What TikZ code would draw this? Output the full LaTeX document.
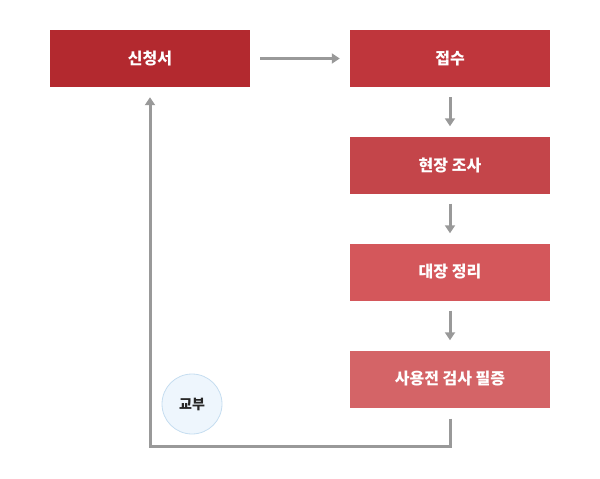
\documentclass[tikz,border=0pt]{standalone}
\usepackage{fontspec}
\setmainfont{Noto Sans CJK KR}
\usetikzlibrary{arrows.meta}
\definecolor{c1}{HTML}{B3292F}
\definecolor{c2}{HTML}{BF363C}
\definecolor{c3}{HTML}{C4454A}
\definecolor{c4}{HTML}{D4575B}
\definecolor{c5}{HTML}{D46467}
\definecolor{ln}{HTML}{999999}
\definecolor{cfill}{HTML}{EEF6FD}
\definecolor{cline}{HTML}{C5DDF0}
\begin{document}
\begin{tikzpicture}[x=1pt,y=-1pt,
  stepbox/.style={minimum width=200pt,minimum height=57pt,inner sep=0pt,text=white,font=\fontsize{16}{19}\selectfont\bfseries},
  conn/.style={draw=ln,line width=3pt,-{Triangle[length=8pt,width=10pt]}}]
\useasboundingbox (0,0) rectangle (600,479);
\node[stepbox,fill=c1] (a) at (150,58.5) {신청서};
\node[stepbox,fill=c2] (b) at (450,58.5) {접수};
\node[stepbox,fill=c3] (c) at (450,165) {현장 조사};
\node[stepbox,fill=c4] (d) at (450,272) {대장 정리};
\node[stepbox,fill=c5] (e) at (450,379) {사용전 검사 필증};
\node[circle,draw=cline,line width=0.8pt,fill=cfill,minimum size=60pt,inner sep=0pt,text=black!85,font=\fontsize{14}{16}\selectfont\bfseries] (f) at (192,404) {교부};
\draw[conn] ([xshift=10pt]a.east) -- ([xshift=-10pt]b.west);
\draw[conn] ([yshift=-10pt]b.south) -- ([yshift=10pt]c.north);
\draw[conn] ([yshift=-10pt]c.south) -- ([yshift=10pt]d.north);
\draw[conn] ([yshift=-10pt]d.south) -- ([yshift=10pt]e.north);
\coordinate (r) at (450,446);
\coordinate (l) at (150,446);
\draw[conn,-] ([yshift=-11pt]e.south) -- (r) -- (l);
\draw[conn] ([yshift=-1.5pt]l) -- ([yshift=-10pt]a.south);
\end{tikzpicture}
\end{document}
